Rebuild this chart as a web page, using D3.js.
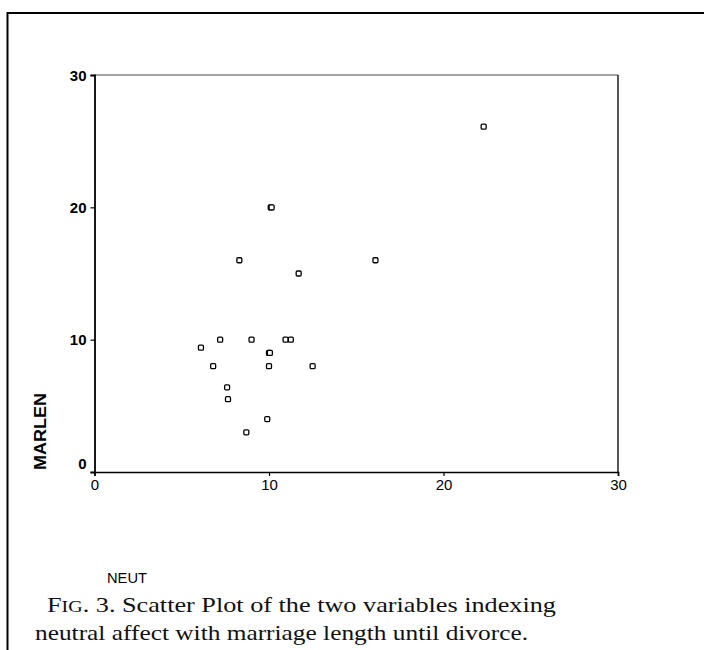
<!DOCTYPE html>
<html>
<head>
<meta charset="utf-8">
<script src="https://cdn.jsdelivr.net/npm/d3@7/dist/d3.min.js"></script>
<style>
  html, body { margin: 0; padding: 0; background: #fff; }
  svg { display: block; }
</style>
</head>
<body>
<svg id="chart" width="704" height="650"></svg>
<script>
// ---- data ----
const neut   = [6.1, 7.2, 9.0, 10.95, 11.25, 10.0, 10.05, 6.8, 10.0, 12.5, 7.6, 7.65, 9.9, 8.7, 10.1, 10.15, 8.3, 16.1, 11.7, 22.3];
const marlen = [9.4, 10, 10, 10, 10, 9, 9, 8, 8, 8, 6.4, 5.5, 4, 3, 20, 20, 16, 16, 15, 26.1];
const xTicks = [0, 10, 20, 30];
const yTicks = [0, 10, 20, 30];
const xTitle = "NEUT";
const yTitle = "MARLEN";
const captionLine1 = ["F", "IG", ". 3.  Scatter Plot of the two variables indexing"];
const captionLine2 = "neutral affect with marriage length until divorce.";

const svg = d3.select("#chart");
const W = 704, H = 650;
svg.append("rect").attr("width", W).attr("height", H).attr("fill", "#fff");

// outer page frame (top and left rules)
svg.append("path")
  .attr("d", `M7.5,650 V13 H704`)
  .attr("fill", "none").attr("stroke", "#000").attr("stroke-width", 2);

const x = d3.scaleLinear().domain([0, 30]).range([94.5, 618]);
const y = d3.scaleLinear().domain([0, 30]).range([472, 75]);

// plot frame
const [x0, x1] = x.range();
const [y0, y1] = y.range();
svg.append("line").attr("x1", x0).attr("x2", x1).attr("y1", y1).attr("y2", y1)
  .attr("stroke", "#444").attr("stroke-width", 1);
svg.append("line").attr("x1", x1).attr("x2", x1).attr("y1", y1).attr("y2", y0)
  .attr("stroke", "#111").attr("stroke-width", 1.4);

const sansBold = "'Liberation Sans', Arial, sans-serif";

// y axis
const gy = svg.append("g").attr("transform", `translate(${x0},0)`)
  .call(d3.axisLeft(y).tickValues(yTicks).tickFormat(d3.format("d")).tickSize(4).tickPadding(4));
gy.select(".domain").attr("stroke", "#000").attr("stroke-width", 1.8);
gy.selectAll(".tick line").attr("stroke", "#000").attr("stroke-width", 1.2);
gy.selectAll(".tick text")
  .attr("font-family", sansBold).attr("font-size", 15).attr("font-weight", "bold").attr("fill", "#000")
  .attr("dy", d => d === 0 ? "-0.25em" : "0.35em");

// x axis
const gx = svg.append("g").attr("transform", `translate(0,${y0})`)
  .call(d3.axisBottom(x).tickValues(xTicks).tickFormat(d3.format("d")).tickSize(4).tickPadding(3));
gx.select(".domain").attr("stroke", "#000").attr("stroke-width", 1.6);
gx.selectAll(".tick line").attr("stroke", "#000").attr("stroke-width", 1.2);
gx.selectAll(".tick text")
  .attr("font-family", sansBold).attr("font-size", 15).attr("fill", "#000");

// axis titles
svg.append("text")
  .attr("transform", "translate(46,431.5) rotate(-90)")
  .attr("text-anchor", "middle")
  .attr("font-family", sansBold).attr("font-size", 16).attr("font-weight", "bold")
  .attr("textLength", 77).attr("lengthAdjust", "spacingAndGlyphs")
  .text(yTitle);

svg.append("text")
  .attr("x", 107).attr("y", 583)
  .attr("font-family", sansBold).attr("font-size", 14)
  .attr("textLength", 40).attr("lengthAdjust", "spacingAndGlyphs")
  .text(xTitle);

// points
const pts = neut.map((v, i) => ({ x: v, y: marlen[i] }));
svg.append("g").selectAll("rect").data(pts).join("rect")
  .attr("x", d => x(d.x) - 2.5).attr("y", d => y(d.y) - 2.5)
  .attr("width", 5).attr("height", 5).attr("rx", 1.2)
  .attr("fill", "#fff").attr("stroke", "#000").attr("stroke-width", 1.3);

// caption
const serif = "'Liberation Serif', 'DejaVu Serif', serif";
const c1 = svg.append("text").attr("x", 47).attr("y", 612)
  .attr("font-family", serif).attr("font-size", 21).attr("fill", "#111")
  .attr("textLength", 509).attr("lengthAdjust", "spacingAndGlyphs");
c1.append("tspan").text(captionLine1[0]);
c1.append("tspan").attr("font-size", 16).text(captionLine1[1]);
c1.append("tspan").text(captionLine1[2]);

svg.append("text").attr("x", 35).attr("y", 640)
  .attr("font-family", serif).attr("font-size", 21).attr("fill", "#111")
  .attr("textLength", 493).attr("lengthAdjust", "spacingAndGlyphs")
  .text(captionLine2);
</script>
</body>
</html>
